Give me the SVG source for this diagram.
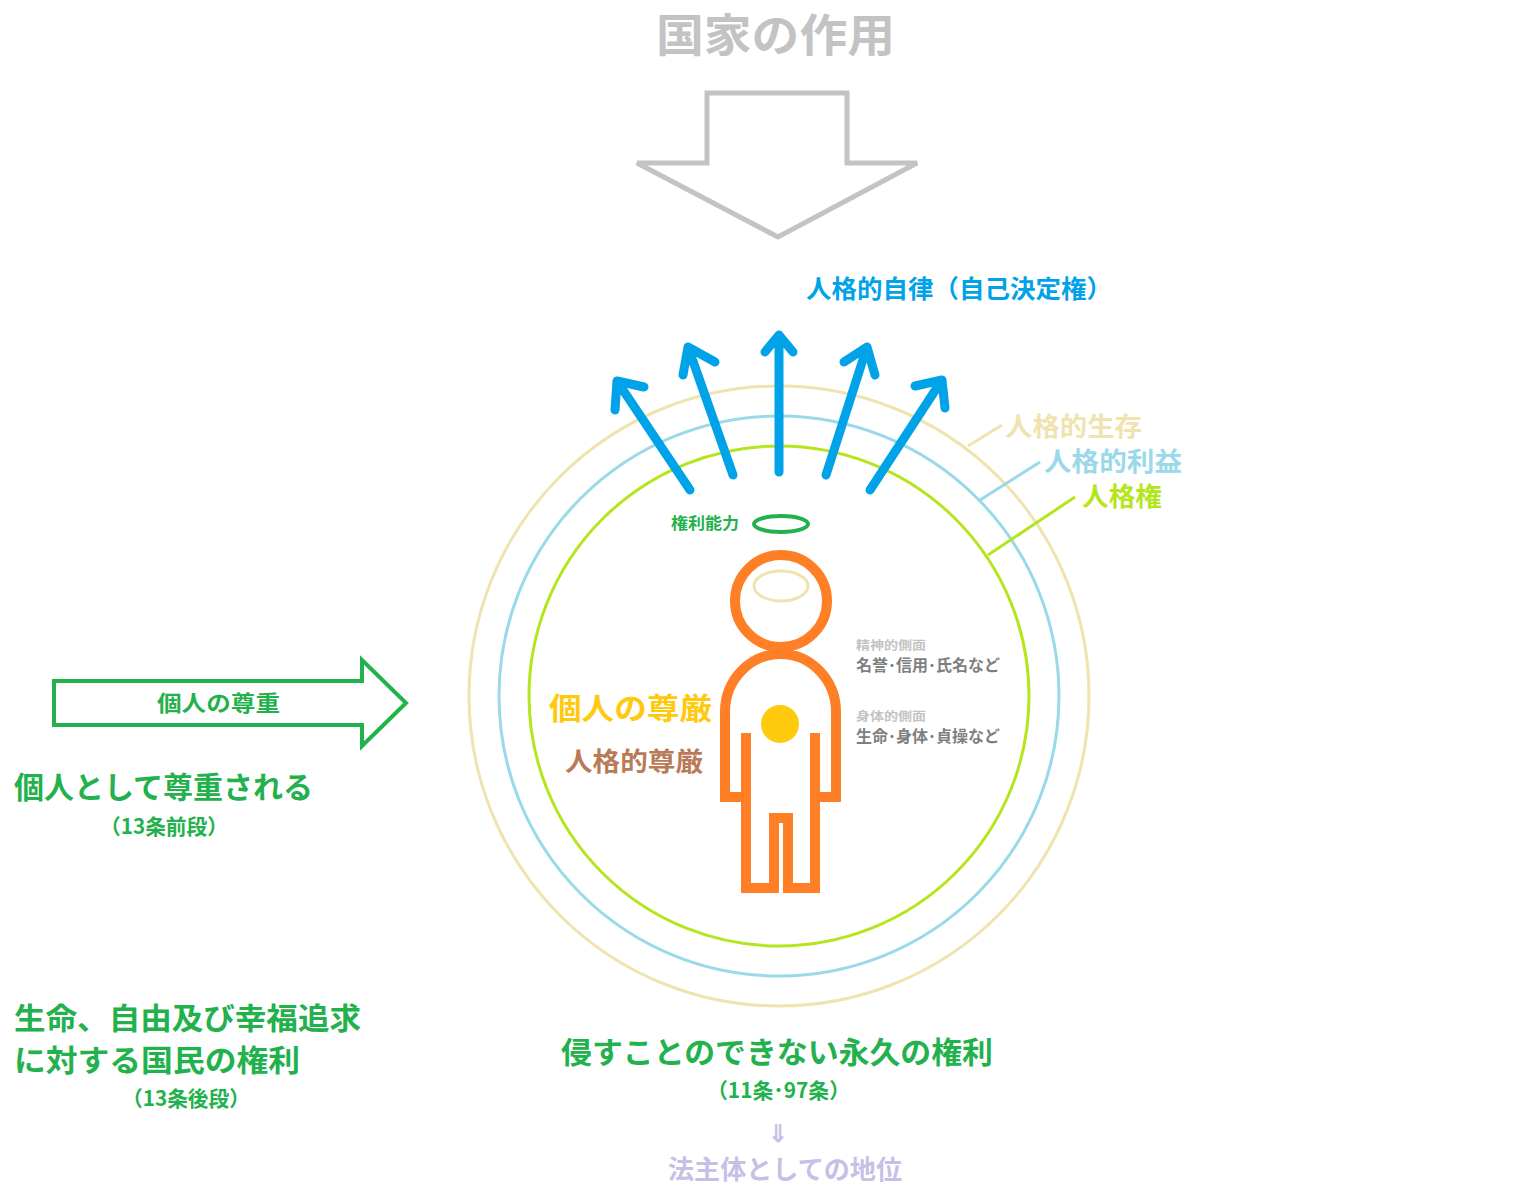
<svg xmlns="http://www.w3.org/2000/svg" width="1540" height="1196" viewBox="0 0 1540 1196">
<style>
text{font-family:"Noto Sans CJK JP","Noto Sans CJK SC",sans-serif;font-weight:bold}
.ar{fill:none;stroke:#00A2E8;stroke-width:9;stroke-linecap:round;stroke-linejoin:round}
.g{fill:#22B14C}
</style>
<rect width="1540" height="1196" fill="#fff"/>
<g id="title"><text x="656" y="52" font-size="45" fill="#C3C3C3" textLength="239" lengthAdjust="spacingAndGlyphs">国家の作用</text></g>
<g id="state-arrow"><polygon points="707,93 847,93 847,163 917,163 778,237 637,163 707,163" fill="none" stroke="#C3C3C3" stroke-width="5"/></g>
<g id="circles" fill="none">
<circle cx="779" cy="696" r="310" stroke="#EFE4B0" stroke-width="3"/>
<circle cx="779" cy="696" r="280" stroke="#99D9EA" stroke-width="3"/>
<circle cx="779" cy="696" r="250" stroke="#B5E61D" stroke-width="3"/>
</g>
<g id="connectors" fill="none" stroke-width="3">
<line x1="968" y1="446" x2="1002" y2="425" stroke="#EFE4B0"/>
<line x1="980" y1="500" x2="1040" y2="462" stroke="#99D9EA"/>
<line x1="988" y1="555" x2="1075" y2="497" stroke="#B5E61D"/>
<g class="ar">
<path d="M690,490 L617,381 M615,410 L617,381 L644,387"/>
<path d="M733,475 L688,347 M683,375 L688,347 L715,362"/>
<path d="M779,472 L779,335 M765,352 L779,335 L793,352"/>
<path d="M826,475 L867,347 M844,362 L867,347 L875,375"/>
<path d="M870,490 L942,380 M915,386 L942,380 L945,408"/>
</g>
</g>
<g id="labels">
<text x="806" y="298" font-size="25" fill="#00A2E8" textLength="306" lengthAdjust="spacingAndGlyphs">人格的自律（自己決定権）</text>
<text x="1005" y="436" font-size="26" fill="#EFE4B0" textLength="137" lengthAdjust="spacingAndGlyphs">人格的生存</text>
<text x="1044" y="471" font-size="26" fill="#99D9EA" textLength="138" lengthAdjust="spacingAndGlyphs">人格的利益</text>
<text x="1082" y="506" font-size="26" fill="#B5E61D" textLength="80" lengthAdjust="spacingAndGlyphs">人格権</text>
<text x="671" y="529" font-size="16" class="g" textLength="68" lengthAdjust="spacingAndGlyphs">権利能力</text>
</g>
<g id="person" fill="none">
<ellipse cx="781" cy="524" rx="27" ry="8" stroke="#22B14C" stroke-width="4"/>
<circle cx="781" cy="601" r="46" stroke="#FF7F27" stroke-width="10"/>
<ellipse cx="781" cy="586" rx="27" ry="15" stroke="#EFE4B0" stroke-width="3"/>
<path d="M746,733 V797 H725 V712 A55.5,58 0 0 1 836,712 V797 H815 V733 M746,733 V888 H774 V818 H788 V888 H815 V733" stroke="#FF7F27" stroke-width="10" stroke-linejoin="miter"/>
<circle cx="780" cy="724" r="19" fill="#FFC90E"/>
</g>
<g id="side-texts">
<text x="856" y="650" font-size="12" fill="#C3C3C3" textLength="70" lengthAdjust="spacingAndGlyphs">精神的側面</text>
<text x="856" y="671" font-size="16" fill="#7F7F7F" font-weight="normal" textLength="144" lengthAdjust="spacingAndGlyphs">名誉･信用･氏名など</text>
<text x="856" y="721" font-size="12" fill="#C3C3C3" textLength="70" lengthAdjust="spacingAndGlyphs">身体的側面</text>
<text x="856" y="742" font-size="16" fill="#7F7F7F" font-weight="normal" textLength="144" lengthAdjust="spacingAndGlyphs">生命･身体･貞操など</text>
<text x="549" y="719" font-size="30" fill="#FFC90E" textLength="163" lengthAdjust="spacingAndGlyphs">個人の尊厳</text>
<text x="565" y="771" font-size="26" fill="#B97A57" textLength="138" lengthAdjust="spacingAndGlyphs">人格的尊厳</text>
</g>
<g id="respect-arrow">
<polygon points="54,681 362,681 362,660 406,703 362,746 362,725 54,725" fill="none" stroke="#22B14C" stroke-width="4"/>
<text x="157" y="711" font-size="22" class="g" textLength="123" lengthAdjust="spacingAndGlyphs">個人の尊重</text>
</g>
<g id="left-texts">
<text x="14" y="798" font-size="30" class="g" textLength="299" lengthAdjust="spacingAndGlyphs">個人として尊重される</text>
<text x="100" y="834" font-size="21" class="g" textLength="128" lengthAdjust="spacingAndGlyphs">（13条前段）</text>
<text x="14" y="1029" font-size="30" class="g" textLength="347" lengthAdjust="spacingAndGlyphs">生命、自由及び幸福追求</text>
<text x="14" y="1071" font-size="30" class="g" textLength="286" lengthAdjust="spacingAndGlyphs">に対する国民の権利</text>
<text x="122" y="1106" font-size="21" class="g" textLength="128" lengthAdjust="spacingAndGlyphs">（13条後段）</text>
</g>
<g id="bottom-texts">
<text x="561" y="1063" font-size="30" class="g" textLength="432" lengthAdjust="spacingAndGlyphs">侵すことのできない永久の権利</text>
<text x="707" y="1098" font-size="21" class="g" textLength="143" lengthAdjust="spacingAndGlyphs">（11条･97条）</text>
<text x="778" y="1142" font-size="24" fill="#C8BFE7" text-anchor="middle">⇓</text>
<text x="668" y="1179" font-size="26" fill="#C8BFE7" textLength="234" lengthAdjust="spacingAndGlyphs">法主体としての地位</text>
</g>
</svg>
